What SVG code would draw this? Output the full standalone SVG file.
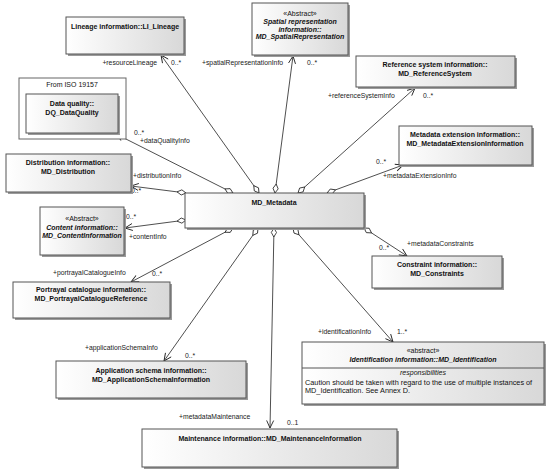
<svg xmlns="http://www.w3.org/2000/svg" width="550" height="472" viewBox="0 0 550 472">
<defs>
<linearGradient id="g" x1="0" y1="0" x2="1" y2="0">
<stop offset="0" stop-color="#ffffff"/>
<stop offset="1" stop-color="#d8d8d8"/>
</linearGradient>
<marker id="arr" viewBox="-9 -5 10 10" refX="0" refY="0" markerWidth="10" markerHeight="10" orient="auto" markerUnits="userSpaceOnUse">
<path d="M-7.5,-3.5 L0,0 L-7.5,3.5" fill="none" stroke="#222" stroke-width="0.9"/>
</marker>
<marker id="dia" viewBox="-1 -4 11 8" refX="0" refY="0" markerWidth="11" markerHeight="8" orient="auto" markerUnits="userSpaceOnUse">
<path d="M0,0 L4.5,-2.6 L9,0 L4.5,2.6 Z" fill="#fff" stroke="#222" stroke-width="0.8"/>
</marker>
</defs>
<style>
.box{fill:url(#g);stroke:#555;stroke-width:1}
.sh{fill:#9a9a9a}
.pkg{fill:#fff;stroke:#666;stroke-width:1}
.t{font-family:"Liberation Sans",Arial,sans-serif;font-size:7px;fill:#111;text-anchor:middle}
.b{font-weight:bold}
.i{font-style:italic}
.l{font-family:"Liberation Sans",Arial,sans-serif;font-size:6.8px;fill:#222}
.e{text-anchor:end}
.n{font-size:7.3px;text-anchor:start}
.c{stroke:#222;stroke-width:0.8;fill:none;marker-start:url(#dia);marker-end:url(#arr)}
</style>
<rect width="550" height="472" fill="#fff"/>

<g id="connectors">
<line class="c" x1="259" y1="193" x2="161" y2="55"/>
<line class="c" x1="275" y1="193" x2="293" y2="56"/>
<line class="c" x1="298" y1="193" x2="415" y2="88"/>
<line class="c" x1="327" y1="193" x2="403" y2="165"/>
<line class="c" x1="233" y1="193" x2="116" y2="134"/>
<line class="c" x1="186" y1="193" x2="131" y2="186"/>
<line class="c" x1="186" y1="220" x2="125" y2="228"/>
<line class="c" x1="233" y1="228" x2="131" y2="282"/>
<line class="c" x1="258" y1="228" x2="164" y2="361"/>
<line class="c" x1="274" y1="228" x2="270" y2="428"/>
<line class="c" x1="293" y1="228" x2="393" y2="342"/>
<line class="c" x1="364" y1="228" x2="407" y2="256"/>
<text class="l e" x="157" y="65">+resourceLineage</text>
<text class="l" x="171" y="65">0..*</text>
<text class="l" x="202" y="65">+spatialRepresentationInfo</text>
<text class="l" x="307" y="65">0..*</text>
<text class="l" x="328" y="98">+referenceSystemInfo</text>
<text class="l" x="423" y="98">0..*</text>
<text class="l" x="134" y="135">0..*</text>
<text class="l" x="140" y="143">+dataQualityInfo</text>
<text class="l" x="133" y="178">+distributionInfo</text>
<text class="l" x="131" y="193">0..*</text>
<text class="l" x="126" y="219">0..*</text>
<text class="l" x="129" y="239">+contentInfo</text>
<text class="l" x="53" y="275">+portrayalCatalogueInfo</text>
<text class="l" x="152" y="276">0..*</text>
<text class="l" x="376" y="164">0..*</text>
<text class="l" x="383" y="178">+metadataExtensionInfo</text>
<text class="l" x="407" y="246">+metadataConstraints</text>
<text class="l" x="379" y="250">0..*</text>
<text class="l" x="85" y="350">+applicationSchemaInfo</text>
<text class="l" x="185" y="358">0..*</text>
<text class="l" x="179" y="419">+metadataMaintenance</text>
<text class="l" x="287" y="425">0..1</text>
<text class="l" x="318" y="334">+identificationInfo</text>
<text class="l" x="397" y="334">1..*</text>
</g>

<g id="lineage">
<rect class="sh" x="68" y="19" width="118" height="37"/>
<rect class="box" x="66" y="17" width="118" height="37"/>
<text class="t b" x="125" y="29">Lineage information::LI_Lineage</text>
</g>

<g id="spatial">
<rect class="sh" x="254" y="5" width="96" height="52"/>
<rect class="box" x="252" y="3" width="96" height="52"/>
<text class="t" x="300" y="16">«Abstract»</text>
<text class="t b i" x="300" y="24">Spatial representation</text>
<text class="t b i" x="300" y="31.5">information::</text>
<text class="t b i" x="300" y="39">MD_SpatialRepresentation</text>
</g>

<g id="refsys">
<rect class="sh" x="358" y="58" width="159" height="31"/>
<rect class="box" x="356" y="56" width="159" height="31"/>
<text class="t b" x="435" y="67">Reference system information::</text>
<text class="t b" x="435" y="76">MD_ReferenceSystem</text>
</g>

<g id="metaext">
<rect class="sh" x="401" y="128" width="133" height="39"/>
<rect class="box" x="399" y="126" width="133" height="39"/>
<text class="t b" x="465" y="137">Metadata extension information::</text>
<text class="t b" x="465" y="146">MD_MetadataExtensionInformation</text>
</g>

<g id="iso19157">
<rect class="pkg" x="19" y="78" width="107" height="61"/>
<text class="t" x="72" y="87">From ISO 19157</text>
</g>

<g id="dataquality">
<rect class="sh" x="28" y="96" width="92" height="39"/>
<rect class="box" x="26" y="94" width="92" height="39"/>
<text class="t b" x="72" y="106">Data quality::</text>
<text class="t b" x="72" y="115">DQ_DataQuality</text>
</g>

<g id="distribution">
<rect class="sh" x="8" y="156" width="125" height="38"/>
<rect class="box" x="6" y="154" width="125" height="38"/>
<text class="t b" x="68" y="165">Distribution information::</text>
<text class="t b" x="68" y="174">MD_Distribution</text>
</g>

<g id="content">
<rect class="sh" x="42" y="209" width="84" height="48"/>
<rect class="box" x="40" y="207" width="84" height="48"/>
<text class="t" x="82" y="221">«Abstract»</text>
<text class="t b i" x="82" y="229.5">Content information::</text>
<text class="t b i" x="82" y="238">MD_ContentInformation</text>
</g>

<g id="metadata">
<rect class="sh" x="187" y="195" width="179" height="35"/>
<rect class="box" x="185" y="193" width="179" height="35"/>
<text class="t b" x="274" y="205">MD_Metadata</text>
</g>

<g id="portrayal">
<rect class="sh" x="15" y="284" width="157" height="36"/>
<rect class="box" x="13" y="282" width="157" height="36"/>
<text class="t b" x="91" y="292">Portrayal catalogue information::</text>
<text class="t b" x="91" y="301">MD_PortrayalCatalogueReference</text>
</g>

<g id="constraints">
<rect class="sh" x="374" y="258" width="130" height="32"/>
<rect class="box" x="372" y="256" width="130" height="32"/>
<text class="t b" x="437" y="267">Constraint information::</text>
<text class="t b" x="437" y="276">MD_Constraints</text>
</g>

<g id="appschema">
<rect class="sh" x="58" y="363" width="190" height="37"/>
<rect class="box" x="56" y="361" width="190" height="37"/>
<text class="t b" x="151" y="373">Application schema information::</text>
<text class="t b" x="151" y="382">MD_ApplicationSchemaInformation</text>
</g>

<g id="maintenance">
<rect class="sh" x="144" y="431" width="255" height="38"/>
<rect class="box" x="142" y="429" width="255" height="38"/>
<text class="t b" x="270" y="441">Maintenance information::MD_MaintenanceInformation</text>
</g>

<g id="identification">
<rect class="sh" x="304" y="344" width="242" height="62"/>
<rect class="box" x="302" y="342" width="242" height="62"/>
<text class="t" x="423" y="353">«abstract»</text>
<text class="t b i" x="423" y="361.5">Identification information::MD_Identification</text>
<line x1="302" y1="368" x2="544" y2="368" stroke="#555" stroke-width="1"/>
<text class="t i" x="423" y="375">responsibilities</text>
<text class="t n" x="305" y="385">Caution should be taken with regard to the use of multiple instances of</text>
<text class="t n" x="305" y="393">MD_Identification. See Annex D.</text>
</g>
</svg>
